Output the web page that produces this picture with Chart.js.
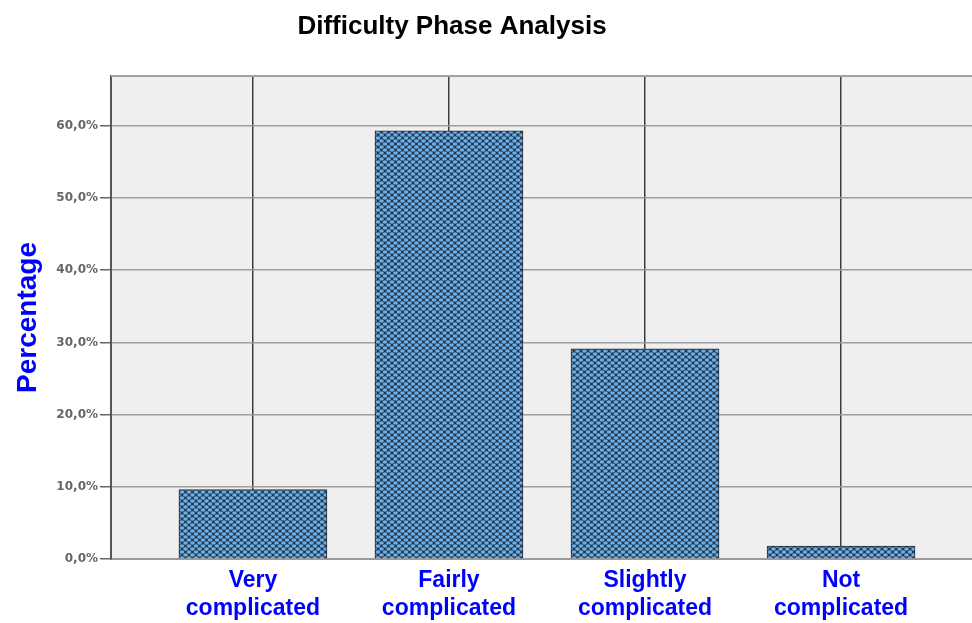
<!DOCTYPE html>
<html>
<head>
<meta charset="utf-8">
<script src="https://cdn.jsdelivr.net/npm/chart.js@4"></script>
<style>
  html, body { margin: 0; padding: 0; background: #fff; }
  #box { width: 972px; height: 623px; }
</style>
</head>
<body>
<div id="box"><canvas id="grafico"></canvas></div>
<script>
const categorias = [['Very', 'complicated'], ['Fairly', 'complicated'], ['Slightly', 'complicated'], ['Not', 'complicated']];
const percentuais = [9.6, 59.3, 29.1, 1.8];
const yTicks = [0, 10, 20, 30, 40, 50, 60];

// hachura cruzada das barras (pontos claros sobre trama escura)
function hachura() {
  const c = document.createElement('canvas');
  c.width = 7; c.height = 6;
  const g = c.getContext('2d');
  g.fillStyle = '#24394e';
  g.fillRect(0, 0, 7, 6);
  g.fillStyle = '#6cb0ea';
  [[3.5, 3], [0, 0], [7, 0], [0, 6], [7, 6]].forEach(([x, y]) => {
    g.beginPath();
    g.ellipse(x, y, 2.3, 1.7, 0, 0, Math.PI * 2);
    g.fill();
  });
  return g.createPattern(c, 'repeat');
}

const fundo = {
  id: 'fundo',
  beforeDraw(chart) {
    const { ctx, chartArea: a } = chart;
    ctx.save();
    ctx.fillStyle = '#efefef';
    ctx.fillRect(a.left, a.top, a.right - a.left, a.bottom - a.top);
    ctx.restore();
  },
  beforeDatasetsDraw(chart) {
    const { ctx, chartArea: a } = chart;
    ctx.save();
    ctx.strokeStyle = '#a0a0a0';
    ctx.lineWidth = 2;
    ctx.beginPath();
    ctx.moveTo(a.left, a.top);
    ctx.lineTo(a.right, a.top);
    ctx.stroke();
    ctx.restore();
  },
  afterDraw(chart) {
    const ctx = chart.ctx;
    ctx.save();
    ctx.fillStyle = '#000';
    ctx.font = 'bold 26px "Liberation Sans", Arial, sans-serif';
    ctx.textAlign = 'center';
    ctx.textBaseline = 'middle';
    ctx.fillText('Difficulty Phase Analysis', 452, 27);
    ctx.restore();
  }
};

const canva = document.getElementById('grafico');

new Chart(canva, {
  type: 'bar',
  data: {
    datasets: [{
      label: 'Percentage',
      data: percentuais.map((v, i) => ({ x: i, y: v })),
      backgroundColor: hachura(),
      borderColor: '#2a2a2a',
      borderWidth: 1,
      barThickness: 148
    }]
  },
  options: {
    responsive: true,
    maintainAspectRatio: false,
    animation: false,
    layout: { padding: { top: 76, right: 0, left: 0, bottom: 0 } },
    plugins: {
      legend: { display: false },
      tooltip: { enabled: false }
    },
    scales: {
      x: {
        type: 'linear',
        offset: false,
        min: -0.724,
        max: 3.668,
        afterBuildTicks: s => { s.ticks = [0, 1, 2, 3].map(v => ({ value: v })); },
        afterFit: s => { s.height = 64; },
        border: { display: true, color: '#9a9a9a', width: 2 },
        grid: { offset: false, color: '#3e3e3e', lineWidth: 1.5, drawTicks: false },
        ticks: {
          padding: 8,
          color: '#0000ff',
          font: { family: '"Liberation Sans", Arial, sans-serif', size: 23, weight: 'bold', lineHeight: 1.22 },
          callback: v => categorias[v]
        }
      },
      y: {
        min: 0,
        max: 66.9,
        afterBuildTicks: s => { s.ticks = yTicks.map(v => ({ value: v })); },
        afterFit: s => { s.width = 111; },
        border: { display: true, color: '#555', width: 2 },
        grid: { color: '#9e9e9e', lineWidth: 1.5, tickLength: 11, tickColor: '#666' },
        ticks: {
          padding: 2,
          color: '#666',
          font: { family: '"DejaVu Sans", sans-serif', size: 12, weight: 'bold' },
          callback: v => v.toFixed(1).replace('.', ',') + '%'
        },
        title: {
          display: true,
          text: 'Percentage',
          color: '#0000ff',
          padding: { top: 11, bottom: 0 },
          font: { family: '"Liberation Sans", Arial, sans-serif', size: 28, weight: 'bold' }
        }
      }
    }
  },
  plugins: [fundo]
});
</script>
</body>
</html>
